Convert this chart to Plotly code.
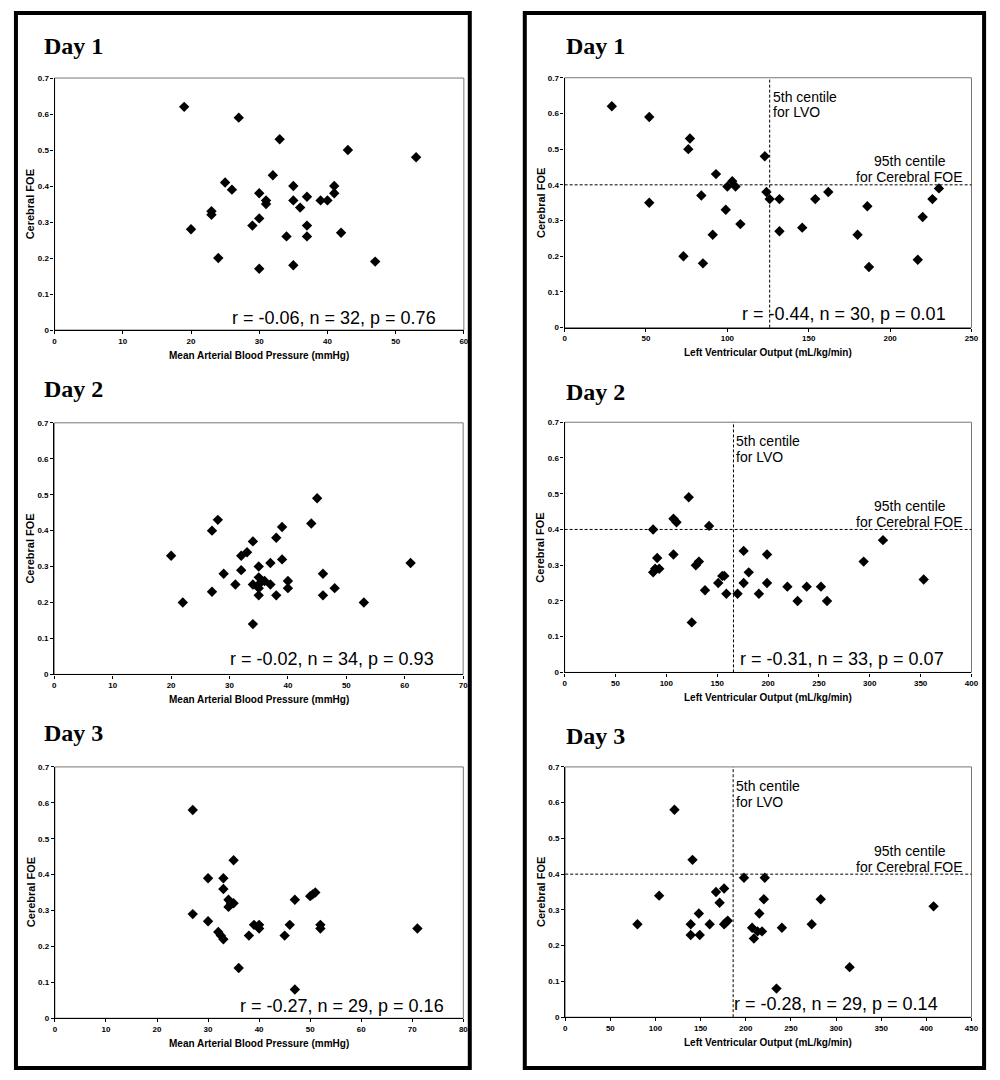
import plotly.graph_objects as go

# ---------------- DATA ----------------
# Left column: Mean Arterial Blood Pressure (mmHg) vs Cerebral FOE
mabp_day1 = [19, 27, 25, 26, 23, 23, 20, 24, 29, 33, 43, 53, 32, 30, 31, 31, 35, 35, 37, 36,
             39, 40, 41, 41, 30, 34, 37, 37, 42, 30, 35, 47]
foe_mabp_day1 = [0.62, 0.59, 0.41, 0.39, 0.33, 0.32, 0.28, 0.20, 0.29, 0.53, 0.50, 0.48, 0.43, 0.38,
                 0.36, 0.35, 0.40, 0.36, 0.37, 0.34, 0.36, 0.36, 0.40, 0.38, 0.31, 0.26, 0.29, 0.26,
                 0.27, 0.17, 0.18, 0.19]

mabp_day2 = [20, 22, 27, 28, 27, 29, 31, 32, 32, 33, 34, 34, 45, 44, 39, 38, 39, 37, 35, 35,
             34, 35, 37, 40, 40, 38, 35, 46, 46, 48, 53, 61, 35, 36]
foe_mabp_day2 = [0.33, 0.20, 0.40, 0.43, 0.23, 0.28, 0.25, 0.29, 0.33, 0.34, 0.37, 0.14, 0.49, 0.42,
                 0.41, 0.38, 0.32, 0.31, 0.30, 0.27, 0.25, 0.25, 0.25, 0.26, 0.24, 0.22, 0.22, 0.28,
                 0.22, 0.24, 0.20, 0.31, 0.24, 0.26]

mabp_day3 = [27, 35, 30, 33, 33, 34, 35, 34, 27, 30, 32, 33, 36, 38, 39, 40, 40, 45, 46, 47,
             47, 50, 51, 52, 52, 71, 34.5, 32.5, 50.5]
foe_mabp_day3 = [0.58, 0.44, 0.39, 0.39, 0.36, 0.33, 0.32, 0.31, 0.29, 0.27, 0.24, 0.22, 0.14, 0.23,
                 0.26, 0.26, 0.25, 0.23, 0.26, 0.33, 0.08, 0.34, 0.35, 0.26, 0.25, 0.25, 0.32, 0.23,
                 0.345]

# Right column: Left Ventricular Output (mL/kg/min) vs Cerebral FOE
lvo_day1 = [29, 52, 77, 76, 93, 103, 105, 100, 84, 52, 99, 108, 91, 73, 85,
            123, 124, 126, 132, 132, 154, 162, 146, 186, 180, 187, 217, 220, 226, 230]
foe_lvo_day1 = [0.62, 0.59, 0.53, 0.50, 0.43, 0.41, 0.395, 0.395, 0.37, 0.35, 0.33, 0.29, 0.26, 0.20,
                0.18, 0.48, 0.38, 0.36, 0.36, 0.27, 0.36, 0.38, 0.28, 0.34, 0.26, 0.17, 0.19, 0.31,
                0.36, 0.39]

lvo_day2 = [122, 87, 107, 110, 142, 107, 91, 87, 93, 129, 132, 138, 151, 155, 159, 170, 176, 176,
            181, 191, 125, 199, 199, 219, 229, 238, 252, 258, 294, 313, 353, 157, 89]
foe_lvo_day2 = [0.49, 0.40, 0.43, 0.42, 0.41, 0.33, 0.32, 0.28, 0.29, 0.30, 0.31, 0.23, 0.25, 0.27,
                0.22, 0.22, 0.34, 0.25, 0.28, 0.22, 0.14, 0.33, 0.25, 0.24, 0.20, 0.24, 0.24, 0.20,
                0.31, 0.37, 0.26, 0.27, 0.29]

lvo_day3 = [121, 141, 80, 104, 139, 139, 148, 149, 160, 167, 176, 171, 176, 180, 198, 207, 209, 215,
            218, 221, 220, 240, 273, 283, 315, 234, 408, 213, 178]
foe_lvo_day3 = [0.58, 0.44, 0.26, 0.34, 0.26, 0.23, 0.29, 0.23, 0.26, 0.35, 0.36, 0.32, 0.26, 0.27,
                0.39, 0.25, 0.22, 0.29, 0.24, 0.39, 0.33, 0.25, 0.26, 0.33, 0.14, 0.08, 0.31, 0.24,
                0.265]

day_labels = ["Day 1", "Day 2", "Day 3"]
stats_mabp = ["r = -0.06, n = 32, p = 0.76", "r = -0.02, n = 34, p = 0.93", "r = -0.27, n = 29, p = 0.16"]
stats_lvo = ["r = -0.44, n = 30, p = 0.01", "r = -0.31, n = 33, p = 0.07", "r = -0.28, n = 29, p = 0.14"]
lvo_5th_centile = [126, 166, 186]
foe_95th_centile = 0.4
mabp_xmax = [60, 70, 80]
lvo_xmax = [250, 400, 450]

# ---------------- LAYOUT ----------------
# The page body has an 8 px margin, so the figure is sized to fill the rest of the window
OFF = 8
W, H = 1000 - OFF, 1080 - OFF
# pixel boxes of plot areas in window coordinates (x0, x1, ytop, ybottom)
boxes_left = [(53, 466, 74.6, 328.7), (52.7, 465.3, 422.3, 676), (53.3, 465.5, 769.3, 1022.7)]
boxes_right = [(567.7, 978.3, 74.3, 326.3), (567.7, 978.3, 421.7, 674), (568.3, 978.3, 769.3, 1021.7)]


def px(xp):
    return (xp - OFF) / W


def py(yp):
    return 1 - (yp - OFF) / H


FONT = "Liberation Sans, Arial, sans-serif"
SERIF = "Liberation Serif, Times New Roman, serif"

fig = go.Figure()
layout = dict(width=W, height=H, margin=dict(l=0, r=0, t=0, b=0),
              paper_bgcolor="white", plot_bgcolor="white", showlegend=False)
shapes = []
annotations = []

series_left = [(mabp_day1, foe_mabp_day1), (mabp_day2, foe_mabp_day2), (mabp_day3, foe_mabp_day3)]
series_right = [(lvo_day1, foe_lvo_day1), (lvo_day2, foe_lvo_day2), (lvo_day3, foe_lvo_day3)]

panels = []
for i in range(3):
    panels.append(("L", i, series_left[i][0], series_left[i][1], boxes_left[i], mabp_xmax[i], 10,
                   stats_mabp[i], "Mean Arterial Blood Pressure (mmHg)"))
    panels.append(("R", i, series_right[i][0], series_right[i][1], boxes_right[i], lvo_xmax[i], 50,
                   stats_lvo[i], "Left Ventricular Output (mL/kg/min)"))

for k, (side, i, xs, ys, box, xmax, dx, stat, xtitle) in enumerate(panels):
    n = k + 1
    xa = "x" if n == 1 else f"x{n}"
    ya = "y" if n == 1 else f"y{n}"
    x0, x1, yt, yb = box
    fig.add_trace(go.Scatter(x=xs, y=ys, mode="markers", xaxis=xa, yaxis=ya,
                             marker=dict(symbol="diamond", size=8, color="black",
                                         line=dict(width=0)),
                             hoverinfo="x+y"))
    axis_common = dict(showgrid=False, zeroline=False, showline=True, linecolor="black",
                       linewidth=1.3, ticks="outside", ticklen=3, tickwidth=1, tickcolor="black",
                       tickfont=dict(family=FONT, size=8, color="black", weight="bold"))
    layout["xaxis" if n == 1 else f"xaxis{n}"] = dict(
        axis_common, domain=[px(x0), px(x1)], range=[0, xmax], dtick=dx, tick0=0,
        anchor=ya)
    layout["yaxis" if n == 1 else f"yaxis{n}"] = dict(
        axis_common, domain=[py(yb), py(yt)], range=[0, 0.7], dtick=0.1, tick0=0,
        anchor=xa, tickformat=".1~f")
    # light box around plot area (top/right border)
    shapes.append(dict(type="rect", xref=f"{xa} domain", yref=f"{ya} domain",
                       x0=0, x1=1, y0=0, y1=1, line=dict(color="#777777", width=1),
                       layer="below"))
    # stats text
    if side == "L":
        rx = [440, 438, 448][i]
        ry = [316.7, 660, 1010][i]
    else:
        rx = [955, 953, 947][i]
        ry = [312.7, 660, 1008][i]
    annotations.append(dict(text=stat, xref="paper", yref="paper", x=px(rx), y=py(ry),
                            xanchor="right", yanchor="middle", showarrow=False,
                            font=dict(family=FONT, size=18, color="black")))
    # day title
    tx = 40 if side == "L" else 567
    ty = ([42, 388, 735] if side == "L" else [42, 391, 738])[i]
    annotations.append(dict(text=f"<b>{day_labels[i]}</b>", xref="paper", yref="paper",
                            x=px(tx), y=py(ty), xanchor="left", yanchor="middle",
                            showarrow=False,
                            font=dict(family=SERIF, size=24, color="black")))
    # axis titles
    annotations.append(dict(text=f"<b>{xtitle}</b>", xref="paper", yref="paper",
                            x=px((x0 + x1) / 2), y=py(yb + 25.5), xanchor="center",
                            yanchor="middle", showarrow=False,
                            font=dict(family=FONT, size=10, color="black")))
    annotations.append(dict(text="<b>Cerebral FOE</b>", xref="paper", yref="paper",
                            x=px(x0 - 24.5), y=py((yt + yb) / 2), xanchor="center",
                            yanchor="middle", textangle=-90, showarrow=False,
                            font=dict(family=FONT, size=11, color="black")))
    if side == "R":
        c = lvo_5th_centile[i]
        shapes.append(dict(type="line", xref=f"{xa} domain", yref=ya, x0=0, x1=1,
                           y0=foe_95th_centile, y1=foe_95th_centile,
                           line=dict(color="black", width=1, dash="3px,2px")))
        shapes.append(dict(type="line", xref=xa, yref=f"{ya} domain", x0=c, x1=c,
                           y0=0, y1=1,
                           line=dict(color="black", width=1, dash="3px,2px")))
        # 5th centile labels
        for j, line in enumerate(["5th centile", "for LVO"]):
            annotations.append(dict(text=line, xref=xa, yref="paper", x=c, xshift=1,
                                    y=py(yt + 19 + 16 * j), xanchor="left", yanchor="middle",
                                    showarrow=False,
                                    font=dict(family=FONT, size=14, color="black")))
        for j, line in enumerate(["95th centile", "for Cerebral FOE"]):
            annotations.append(dict(text=line, xref=f"{xa} domain", yref=ya, x=0.848,
                                    y=foe_95th_centile, yshift=23.5 - 16 * j,
                                    xanchor="center", yanchor="middle",
                                    showarrow=False,
                                    font=dict(family=FONT, size=14, color="black")))

# outer frames of the two columns
for (fx0, fx1) in [(14, 472), (527.5, 991)]:
    shapes.append(dict(type="rect", xref="paper", yref="paper",
                       x0=px(fx0), x1=px(fx1), y0=py(1073), y1=py(9),
                       line=dict(color="black", width=4)))

layout["shapes"] = shapes
layout["annotations"] = annotations
fig.update_layout(**layout)
fig.write_html("out.html")
